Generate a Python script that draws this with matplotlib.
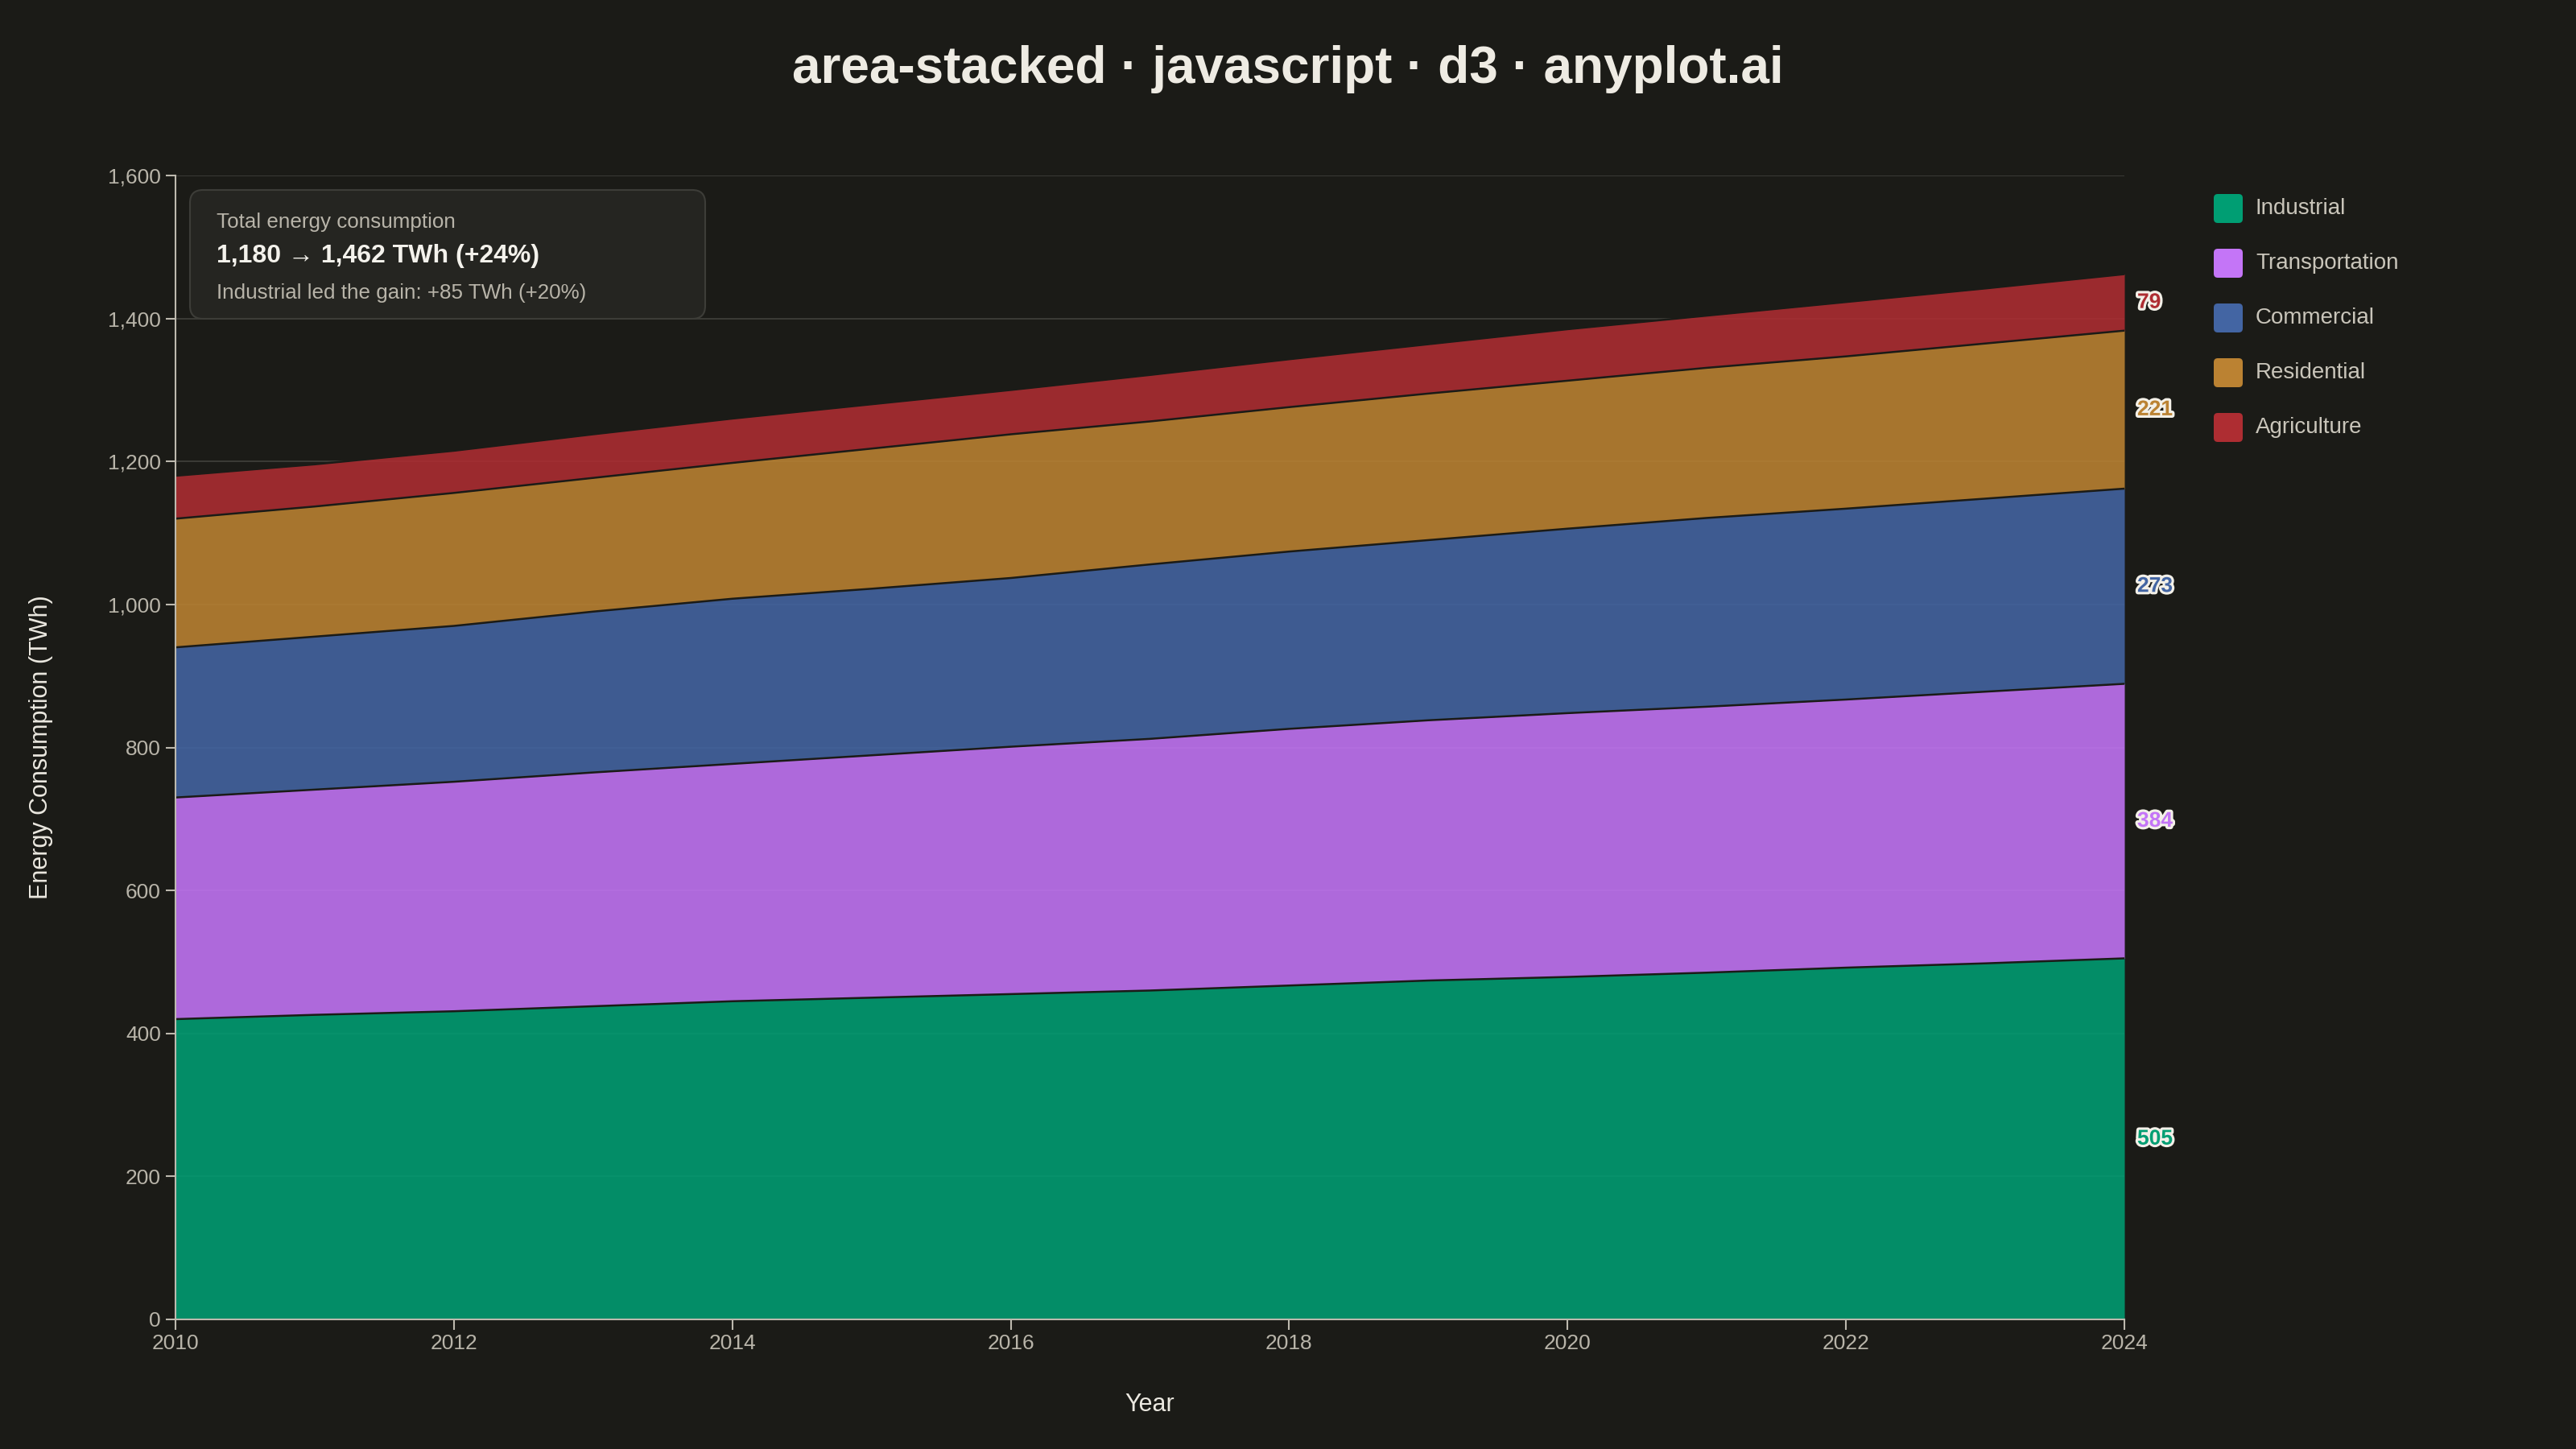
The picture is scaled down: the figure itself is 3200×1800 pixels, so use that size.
import matplotlib
matplotlib.use("Agg")
import matplotlib.pyplot as plt
import matplotlib.patheffects as pe
from matplotlib.patches import FancyBboxPatch
from matplotlib.ticker import FuncFormatter
import matplotlib.transforms as mtransforms
import numpy as np

# ---------------- data ----------------
years = [2010, 2011, 2012, 2013, 2014, 2015, 2016, 2017, 2018, 2019, 2020, 2021, 2022, 2023, 2024]
series_names = ["Industrial", "Transportation", "Commercial", "Residential", "Agriculture"]
industrial = [420, 426, 431, 438, 445, 450, 455, 460, 467, 474, 479, 485, 492, 498, 505]
transportation = [310, 315, 321, 327, 332, 339, 346, 352, 359, 364, 369, 372, 375, 380, 384]
commercial = [210, 214, 218, 225, 231, 233, 236, 244, 248, 252, 258, 264, 267, 270, 273]
residential = [180, 182, 186, 187, 190, 196, 201, 200, 202, 205, 207, 210, 213, 217, 221]
agriculture = [60, 59, 59, 61, 62, 62, 62, 65, 67, 69, 72, 73, 76, 77, 79]
y_ticks = [0, 200, 400, 600, 800, 1000, 1200, 1400, 1600]
x_ticks = [2010, 2012, 2014, 2016, 2018, 2020, 2022, 2024]

colors = ["#009E73", "#C475F7", "#4365A3", "#BB8232", "#AE2D32"]
BG = "#1b1b17"
plt.rcParams["font.family"] = ["Liberation Sans", "DejaVu Sans"]

fig = plt.figure(figsize=(32, 18), dpi=100, facecolor=BG)
W, H = 3200, 1800
ax = fig.add_axes([218 / W, 1 - 1639 / H, (2639 - 218) / W, (1639 - 218) / H])
ax.set_facecolor(BG)

# pixel transform (top-left origin)
pix = mtransforms.Affine2D().scale(1 / W, -1 / H).translate(0, 1) + fig.transFigure

data = [industrial, transportation, commercial, residential, agriculture]
arr = np.array(data, dtype=float)
cum = np.cumsum(arr, axis=0)
base = np.vstack([np.zeros(len(years)), cum[:-1]])

# grid
for t in y_ticks:
    ax.axhline(t, color="#3b3b36", lw=1.4, zorder=0)

for i, name in enumerate(series_names):
    ax.fill_between(years, base[i], cum[i], color=colors[i], alpha=0.88, lw=0, zorder=2)
    ax.plot(years, cum[i], color=BG, lw=1.8, zorder=3)

ax.set_xlim(2010, 2024)
ax.set_ylim(0, 1600)
ax.set_xticks(x_ticks)
ax.set_yticks(y_ticks)
ax.yaxis.set_major_formatter(FuncFormatter(lambda v, p: f"{int(v):,}"))
ax.xaxis.set_major_formatter(FuncFormatter(lambda v, p: f"{int(v)}"))
for s in ["top", "right"]:
    ax.spines[s].set_visible(False)
for s in ["left", "bottom"]:
    ax.spines[s].set_color("#bdb9ae")
    ax.spines[s].set_linewidth(1.5)
    ax.spines[s].set_zorder(5)
ax.tick_params(axis="both", colors="#bdb9ae", labelcolor="#b8b4a9", labelsize=19,
               length=9, width=1.5, pad=4)

ax.set_xlabel("Year", fontsize=22, color="#ebe8e0", labelpad=35)
fig.text(51 / W, 1 - 928 / H, "Energy Consumption (TWh)", rotation=90, fontsize=22,
         color="#ebe8e0", ha="center", va="center")

# title
fig.text(0.5, 1 - 86 / H, "area-stacked · javascript · d3 · anyplot.ai", ha="center",
         va="center", fontsize=46, fontweight="bold", color="#eeebe3")

# end labels
for i in range(len(series_names)):
    mid = (base[i][-1] + cum[i][-1]) / 2
    ax.annotate(f"{int(arr[i][-1])}", xy=(years[-1], mid), xytext=(16, 0),
                textcoords="offset pixels", ha="left", va="center", fontsize=19,
                fontweight="bold", color=colors[i], annotation_clip=False,
                path_effects=[pe.Stroke(linewidth=4.5, foreground="#f3f0e8"), pe.Normal()])

# annotation box
box = FancyBboxPatch((236, 236), 640, 160, boxstyle="round,pad=0,rounding_size=16",
                     transform=pix, facecolor="#252521", edgecolor="#3d3d38", lw=1.5,
                     zorder=10)
fig.add_artist(box)
total_start = int(cum[-1][0])
total_end = int(cum[-1][-1])
pct = round((total_end - total_start) / total_start * 100)
ind_gain = industrial[-1] - industrial[0]
ind_pct = round(ind_gain / industrial[0] * 100)
fig.text(269 / W, 1 - 276 / H, "Total energy consumption", fontsize=18.7, color="#b8b4a9",
         va="center", ha="left", zorder=11)
fig.text(269 / W, 1 - 318 / H, f"{total_start:,} \u2192 {total_end:,} TWh (+{pct}%)",
         fontsize=23, fontweight="bold", color="#f4f2ec", va="center", ha="left", zorder=11)
fig.text(269 / W, 1 - 364 / H, f"Industrial led the gain: +{ind_gain} TWh (+{ind_pct}%)",
         fontsize=18.7, color="#b8b4a9", va="center", ha="left", zorder=11)

# legend
for i, name in enumerate(series_names):
    cy = 259 + i * 68
    sw = FancyBboxPatch((2750, cy - 18), 36, 36, boxstyle="round,pad=0,rounding_size=5",
                        transform=pix, facecolor=colors[i], edgecolor="none")
    fig.add_artist(sw)
    fig.text(2802 / W, 1 - cy / H, name, fontsize=20, color="#c9c5ba", va="center", ha="left")

fig.savefig("out.png", dpi=100, facecolor=BG)
